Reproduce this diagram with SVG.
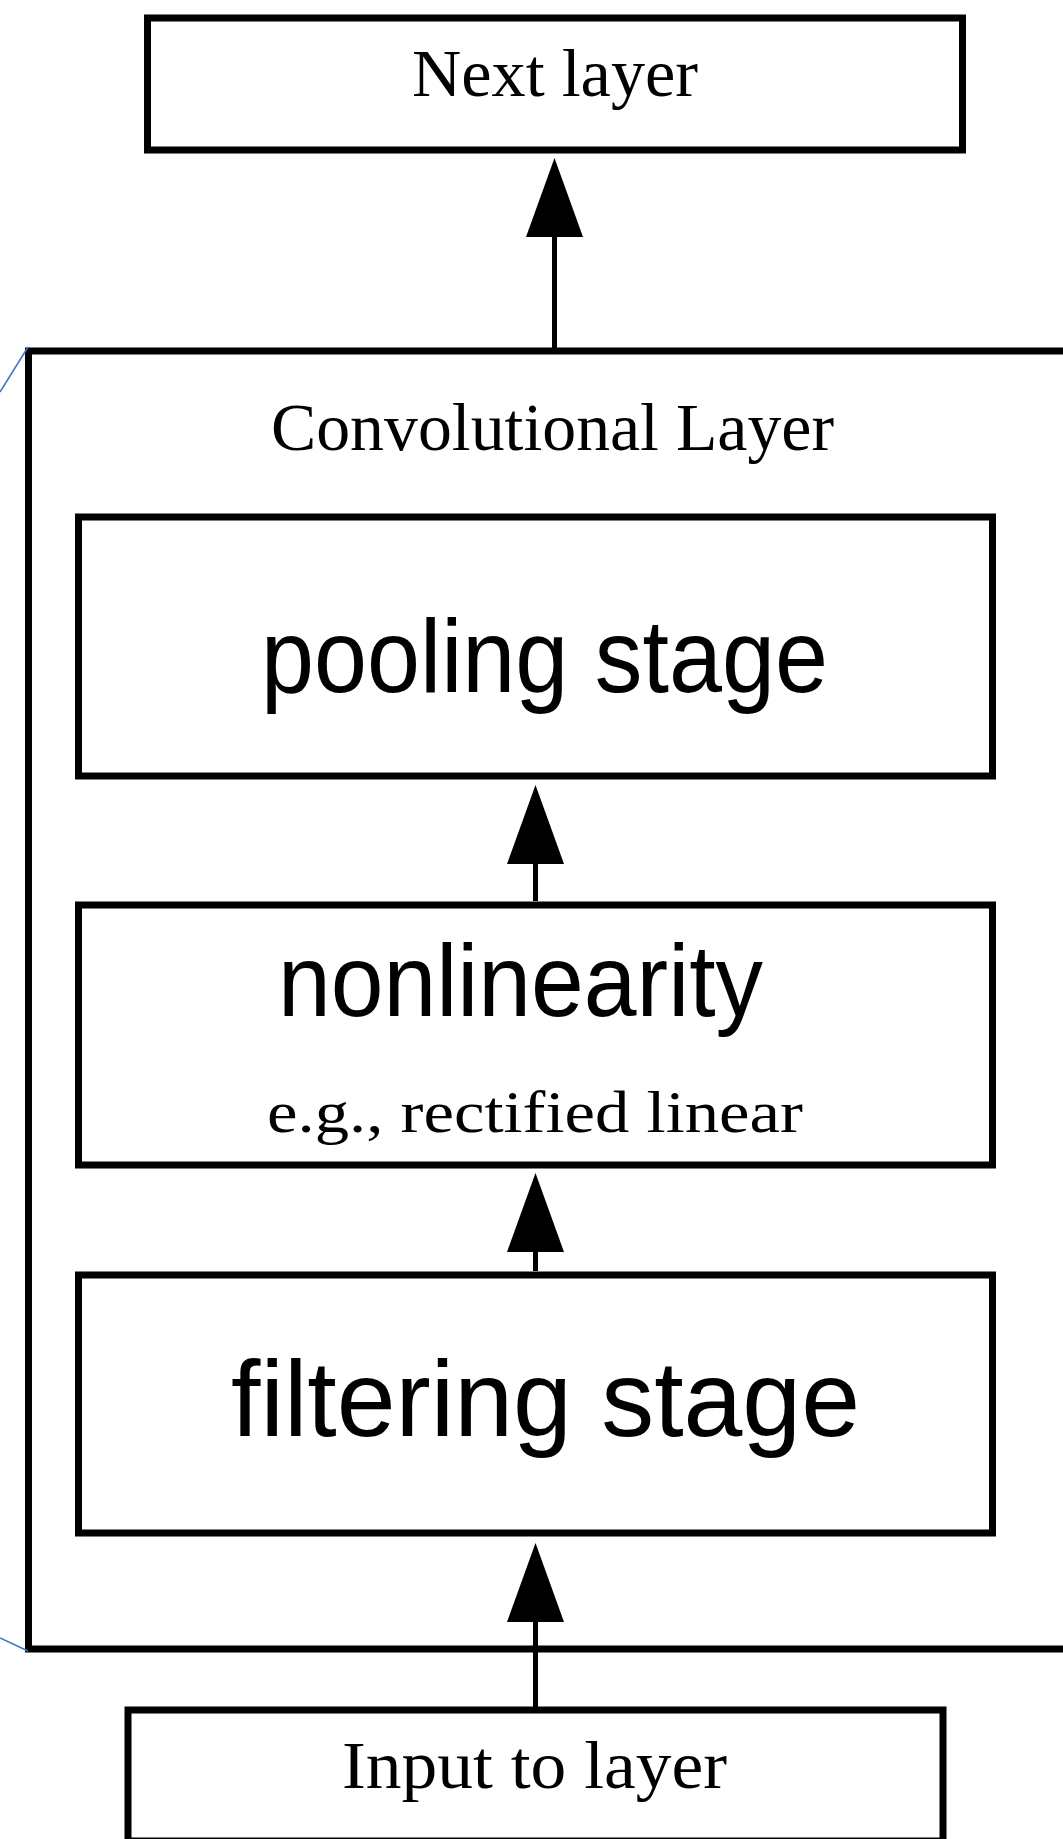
<svg xmlns="http://www.w3.org/2000/svg" width="1063" height="1839" viewBox="0 0 1063 1839">
  <style>
    .box { fill: #ffffff; stroke: #000000; stroke-width: 7; }
    .serif { font-family: "Liberation Serif", "Times New Roman", serif; font-size: 67px; fill: #000000; }
    .sans { font-family: "Liberation Sans", Arial, sans-serif; fill: #000000; }
    .conn { stroke: #000000; stroke-width: 5; fill: none; }
    .blue { stroke: #4472C4; stroke-width: 1.5; fill: none; }
  </style>
  <defs>
    <marker id="arrow" viewBox="0 0 79 57" refX="0" refY="28.5" markerWidth="79" markerHeight="57" markerUnits="userSpaceOnUse" orient="auto">
      <path d="M0,0 L79,28.5 L0,57 Z" fill="#000000"/>
    </marker>
  </defs>
  <rect x="0" y="0" width="1063" height="1839" fill="#ffffff"/>

  <g id="conv-layer">
    <rect class="box" x="28.5" y="351" width="1045" height="1298"/>
    <text class="serif" x="271" y="450" textLength="563" lengthAdjust="spacingAndGlyphs">Convolutional Layer</text>
  </g>

  <g id="callout-lines">
    <line class="blue" x1="0" y1="392" x2="28" y2="347"/>
    <line class="blue" x1="0" y1="1638" x2="28" y2="1651"/>
  </g>

  <g id="next-layer">
    <rect class="box" x="147.5" y="18" width="815" height="132"/>
    <text class="serif" x="412" y="96" textLength="286" lengthAdjust="spacingAndGlyphs">Next layer</text>
  </g>

  <g id="pooling-stage">
    <rect class="box" x="78.5" y="517" width="914" height="259"/>
    <text class="sans" x="261" y="692" font-size="104" textLength="567" lengthAdjust="spacingAndGlyphs">pooling stage</text>
  </g>

  <g id="nonlinearity">
    <rect class="box" x="78.5" y="905" width="914" height="260"/>
    <text class="sans" x="278" y="1016" font-size="102" textLength="485" lengthAdjust="spacingAndGlyphs">nonlinearity</text>
    <text class="serif" x="267" y="1132" font-size="59" style="font-size:59px" textLength="536" lengthAdjust="spacingAndGlyphs">e.g., rectified linear</text>
  </g>

  <g id="filtering-stage">
    <rect class="box" x="78.5" y="1275" width="914" height="258"/>
    <text class="sans" x="231" y="1436" font-size="108" textLength="629" lengthAdjust="spacingAndGlyphs">filtering stage</text>
  </g>

  <g id="input-to-layer">
    <rect class="box" x="128" y="1710" width="815" height="131"/>
    <text class="serif" x="342" y="1788" textLength="385" lengthAdjust="spacingAndGlyphs">Input to layer</text>
  </g>

  <g id="connectors">
    <line class="conn" x1="554.5" y1="348" x2="554.5" y2="237" marker-end="url(#arrow)"/>
    <line class="conn" x1="535.5" y1="901" x2="535.5" y2="864" marker-end="url(#arrow)"/>
    <line class="conn" x1="535.5" y1="1271" x2="535.5" y2="1252" marker-end="url(#arrow)"/>
    <line class="conn" x1="535.5" y1="1707" x2="535.5" y2="1622" marker-end="url(#arrow)"/>
  </g>
</svg>
